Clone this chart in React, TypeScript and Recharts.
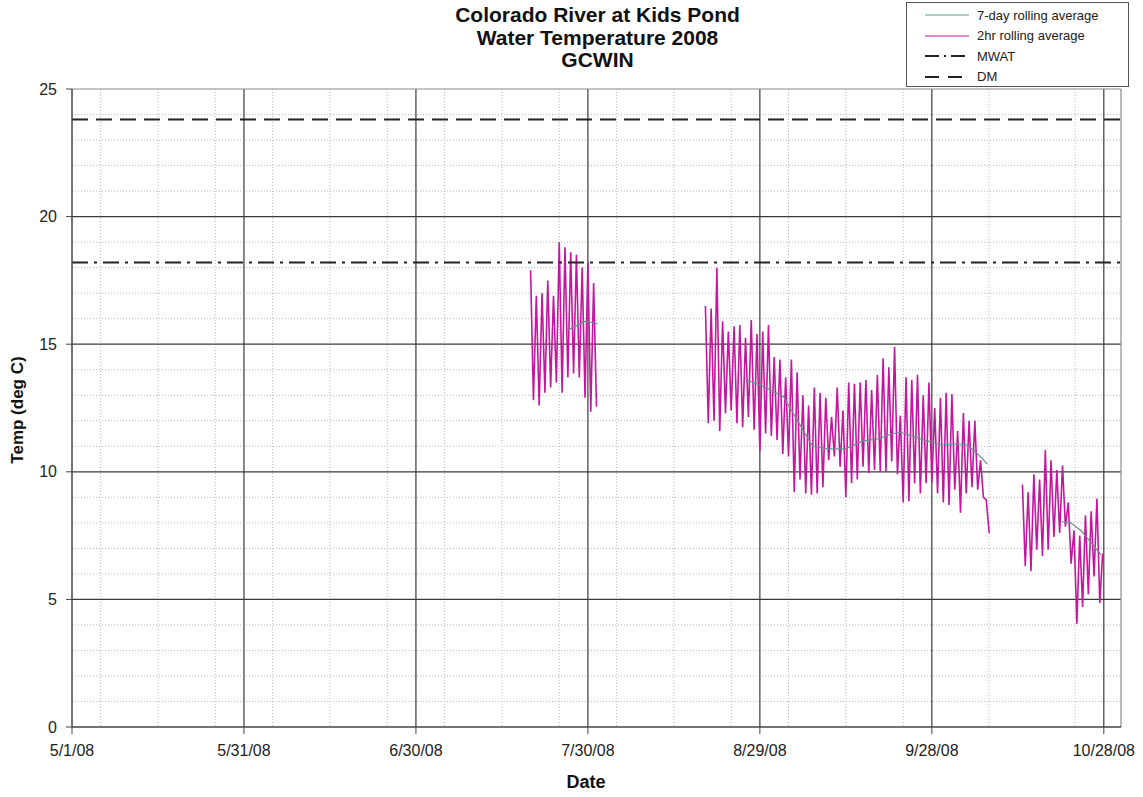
import React from "react";
import { LineChart, Line, XAxis, YAxis, CartesianGrid, ReferenceLine } from "recharts";

const FONT = '"Liberation Sans", Arial, sans-serif';

const titleLines = ["Colorado River at Kids Pond", "Water Temperature 2008", "GCWIN"];

// x values are days after 5/1/08
const dayTicks = [0, 30, 60, 90, 120, 150, 180];
const tempTicks = [0, 5, 10, 15, 20, 25];

const MWAT = 18.2;
const DM = 23.8;

// 2hr rolling average: daily highs and lows
const win1Start = 80.0;
const win1Max = [17.9, 16.9, 17.0, 17.5, 16.9, 19.0, 18.8, 18.6, 18.5, 18.0, 18.2, 17.4];
const win1Min = [12.8, 12.6, 13.1, 13.3, 13.5, 13.1, 13.7, 13.85, 13.7, 12.9, 12.35, 12.55];

const win2Start = 110.5;
const win2Max = [
  16.5, 16.4, 18.0, 15.9, 15.5, 15.7, 15.75, 15.25, 15.95, 15.4, 15.5, 15.75, 14.5, 14.4, 13.7,
  14.4, 13.9, 13.0, 12.6, 13.3, 13.1, 12.9, 12.15, 13.3, 12.4, 13.5, 13.45, 13.5, 13.6, 13.2,
  13.8, 14.45, 14.1, 14.9, 12.2, 13.7, 13.6, 13.8, 13.0, 13.5, 12.5, 12.9, 13.1, 13.05, 11.6,
  12.3, 12.0, 12.0, 10.45, 8.9,
];
const win2Min = [
  11.9, 12.0, 11.6, 12.3, 12.4, 11.9, 11.75, 12.15, 11.65, 10.8, 11.5, 11.4, 11.25, 10.7, 10.6,
  9.2, 9.7, 9.15, 9.1, 9.15, 9.4, 10.45, 10.6, 10.2, 9.0, 9.55, 9.7, 10.2, 9.95, 10.07,
  10.0, 10.0, 10.4, 9.9, 8.8, 8.85, 9.55, 9.15, 9.55, 9.55, 9.15, 8.8, 8.7, 9.3, 8.4,
  9.15, 9.4, 9.3, 9.0, 7.6,
];

const win3Start = 165.8;
const win3Max = [9.5, 9.2, 9.9, 9.7, 10.85, 10.45, 10.07, 10.25, 8.8, 7.7, 7.5, 8.3, 8.45, 8.95, 6.8];
const win3Min = [6.3, 6.1, 6.95, 6.7, 6.95, 7.45, 7.6, 7.85, 6.4, 4.05, 4.7, 5.2, 5.9, 4.85];

// 7-day rolling average
const avg1Days = [86.4, 87.8, 89.6, 91.7];
const avg1Vals = [15.55, 15.7, 15.9, 15.8];
const avg2Days = [117.5, 120.1, 124.1, 127.1, 129.2, 131.8, 134.9, 137.9, 140.7, 143.2, 144.6, 148.6, 151.5, 154.5, 156.2, 158.0, 159.7];
const avg2Vals = [13.6, 13.4, 12.95, 11.8, 11.0, 10.9, 10.9, 11.2, 11.3, 11.5, 11.55, 11.25, 11.05, 11.1, 11.05, 10.7, 10.3];
const avg3Days = [172.8, 174.2, 176.0, 177.7, 179.5];
const avg3Vals = [8.05, 8.0, 7.7, 7.25, 6.75];

type Pt = { day: number; temp: number | null };

function dailyCycle(start: number, maxes: number[], mins: number[]): Pt[] {
  const pts: Pt[] = [];
  maxes.forEach((mx, i) => {
    pts.push({ day: start + i, temp: mx });
    if (i < mins.length) pts.push({ day: start + i + 0.5, temp: mins[i] });
  });
  return pts;
}

function pairs(days: number[], vals: number[]): Pt[] {
  return days.map((d, i) => ({ day: d, temp: vals[i] }));
}

const twoHrData: Pt[] = [
  ...dailyCycle(win1Start, win1Max, win1Min),
  { day: 100, temp: null },
  ...dailyCycle(win2Start, win2Max, win2Min),
  { day: 162, temp: null },
  ...dailyCycle(win3Start, win3Max, win3Min),
];

const sevenDayData: Pt[] = [
  ...pairs(avg1Days, avg1Vals),
  { day: 100, temp: null },
  ...pairs(avg2Days, avg2Vals),
  { day: 162, temp: null },
  ...pairs(avg3Days, avg3Vals),
];

const minorDays = Array.from({ length: 36 }, (_, i) => (i + 1) * 5).filter((d) => d % 30 !== 0);
const minorTemps = Array.from({ length: 24 }, (_, i) => i + 1).filter((t) => t % 5 !== 0);

function fmtDate(d: number) {
  const dt = new Date(2008, 4, 1 + d);
  return `${dt.getMonth() + 1}/${dt.getDate()}/08`;
}

const legendItems = [
  { label: "7-day rolling average", color: "#5f9a92", dash: "", width: 1 },
  { label: "2hr rolling average", color: "#c4169f", dash: "", width: 1 },
  { label: "MWAT", color: "#222", dash: "14 5 2 5", width: 2 },
  { label: "DM", color: "#222", dash: "14 9", width: 2 },
];

export default function App() {
  return (
    <div style={{ position: "absolute", left: 0, top: 0, width: 1143, height: 797, background: "#fff", fontFamily: FONT }}>
      <div style={{ position: "absolute", left: 0, top: 4, width: 1195, textAlign: "center", fontWeight: "bold", fontSize: 21, lineHeight: "22.5px", color: "#111" }}>
        {titleLines.map((t) => (
          <div key={t}>{t}</div>
        ))}
      </div>

      <LineChart width={1143} height={797} margin={{ top: 89, right: 22, bottom: 30, left: 12 }}>
        <CartesianGrid horizontalValues={minorTemps} verticalValues={minorDays} stroke="#b8b8b8" strokeDasharray="1 2" />
        <CartesianGrid horizontalValues={[5, 10, 15, 20]} verticalValues={[30, 60, 90, 120, 150, 180]} stroke="#3a3a3a" strokeWidth={1.2} />
        <CartesianGrid horizontalValues={[25]} verticalValues={[183]} stroke="#8a8a8a" strokeWidth={1.2} />
        <XAxis
          dataKey="day"
          type="number"
          domain={[0, 183]}
          ticks={dayTicks}
          tickFormatter={fmtDate}
          allowDataOverflow
          height={40}
          tickSize={7}
          tickMargin={11}
          axisLine={{ stroke: "#444", strokeWidth: 1.5 }}
          tickLine={{ stroke: "#444" }}
          tick={{ fill: "#222", fontSize: 16, fontFamily: FONT }}
        />
        <YAxis
          type="number"
          domain={[0, 25]}
          ticks={tempTicks}
          allowDataOverflow
          width={60}
          tickSize={6}
          tickMargin={9}
          axisLine={{ stroke: "#444", strokeWidth: 1.5 }}
          tickLine={{ stroke: "#444" }}
          tick={{ fill: "#222", fontSize: 16, fontFamily: FONT }}
        />
        <Line
          data={twoHrData}
          dataKey="temp"
          type="linear"
          stroke="#c4169f"
          strokeWidth={1.6}
          dot={false}
          connectNulls={false}
          isAnimationActive={false}
        />
        <Line
          data={sevenDayData}
          dataKey="temp"
          type="linear"
          stroke="#6a8f8a"
          strokeWidth={1.2}
          dot={false}
          connectNulls={false}
          isAnimationActive={false}
        />
        <ReferenceLine y={MWAT} stroke="#222" strokeWidth={2} strokeDasharray="16 6 3 6" />
        <ReferenceLine y={DM} stroke="#222" strokeWidth={2} strokeDasharray="16 8" />
      </LineChart>

      <div style={{ position: "absolute", left: 18, top: 410, transform: "translate(-50%, -50%) rotate(-90deg)", whiteSpace: "nowrap", fontWeight: "bold", fontSize: 17, color: "#111" }}>
        Temp (deg C)
      </div>
      <div style={{ position: "absolute", left: 586, top: 782, transform: "translate(-50%, -50%)", fontWeight: "bold", fontSize: 18, color: "#111" }}>
        Date
      </div>

      <div style={{ position: "absolute", left: 906, top: 2, width: 221, height: 83, border: "1px solid #555", background: "#fff" }}>
        {legendItems.map((it, i) => (
          <div key={it.label} style={{ position: "absolute", left: 0, top: 3 + i * 20.5, height: 18, display: "flex", alignItems: "center" }}>
            <svg width={70} height={18} style={{ display: "block" }}>
              <line x1={18} x2={62} y1={9} y2={9} stroke={it.color} strokeWidth={it.width} strokeDasharray={it.dash || undefined} />
            </svg>
            <span style={{ fontSize: 13, color: "#222" }}>{it.label}</span>
          </div>
        ))}
      </div>
    </div>
  );
}
